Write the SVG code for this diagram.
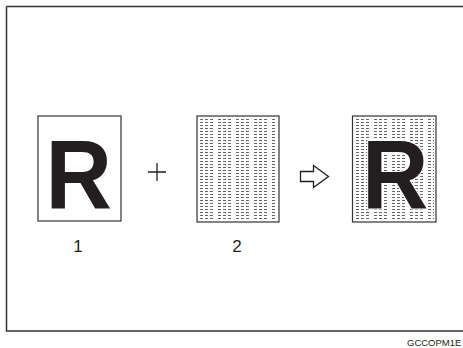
<svg xmlns="http://www.w3.org/2000/svg" width="463" height="348" viewBox="0 0 463 348">
<style>
.box{fill:#fff;stroke:#333;stroke-width:1.2}
.R{font-family:"Liberation Sans",Arial,sans-serif;font-weight:bold;font-size:99px;fill:#231f20}
.lbl{font-family:"Liberation Sans",Arial,sans-serif;font-size:17px;fill:#231f20;text-anchor:middle}
.code{font-family:"Liberation Sans",Arial,sans-serif;font-size:9.5px;fill:#231f20}
</style>
<defs>
<pattern id="screen" patternUnits="userSpaceOnUse" x="200" y="119" width="18" height="3">
<rect x="0" y="0" width="3" height="1" fill="#666"/>
<rect x="5" y="0" width="3" height="1" fill="#666"/>
<rect x="10" y="0" width="3" height="1" fill="#666"/>
</pattern>
<pattern id="screen3" patternUnits="userSpaceOnUse" x="356" y="119" width="18" height="3">
<rect x="0" y="0" width="3" height="1" fill="#666"/>
<rect x="5" y="0" width="3" height="1" fill="#666"/>
<rect x="10" y="0" width="3" height="1" fill="#666"/>
</pattern>
</defs>
<rect width="463" height="348" fill="#fff"/>
<path d="M6.5 6.5 H463 M6.5 6.5 V331 H463" fill="none" stroke="#333" stroke-width="1.5"/>
<g id="node1">
<rect class="box" x="38" y="116" width="83" height="105"/>
<text class="R" transform="translate(45.5 209) scale(0.93 1)">R</text>
<text class="lbl" x="78" y="252">1</text>
</g>
<g id="plus">
<path d="M148 172 H166 M157 163 V181" stroke="#231f20" stroke-width="1.3" fill="none"/>
</g>
<g id="node2">
<rect class="box" x="197" y="116" width="82" height="106"/>
<rect x="199" y="118" width="78" height="102" fill="url(#screen)"/>
<text class="lbl" x="237" y="252">2</text>
</g>
<g id="connectors">
<path d="M300.5 171.5 H313.5 V165.5 L328.5 176.5 L313.5 187.5 V181.5 H300.5 Z" fill="#fff" stroke="#231f20" stroke-width="1.3" stroke-linejoin="miter"/>
</g>
<g id="node3">
<rect class="box" x="352.5" y="116" width="83.5" height="106"/>
<rect x="354.5" y="118" width="79.5" height="102" fill="url(#screen3)"/>
<text class="R" transform="translate(362 209) scale(0.93 1)" stroke="#fff" stroke-width="2" paint-order="stroke">R</text>
</g>
<text class="code" x="407" y="346">GCCOPM1E</text>
</svg>
